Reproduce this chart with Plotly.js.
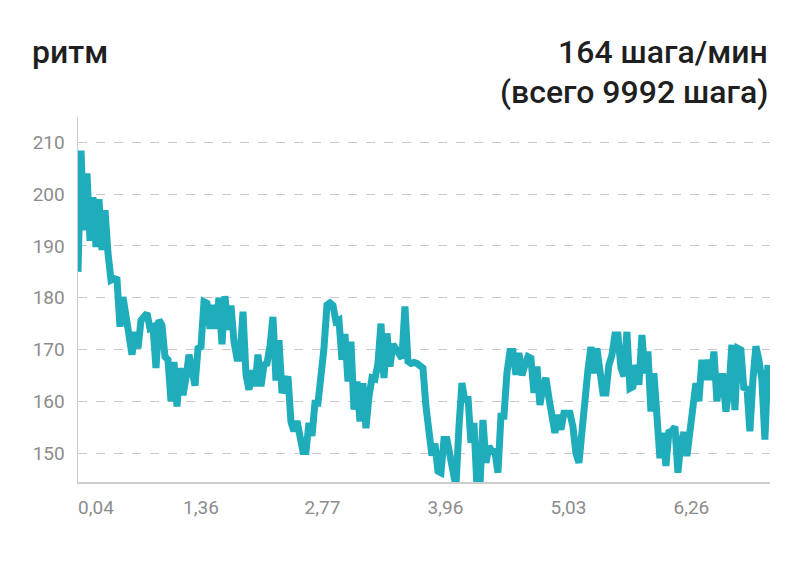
<!DOCTYPE html>
<html>
<head>
<meta charset="utf-8">
<script src="https://cdn.plot.ly/plotly-3.0.1.min.js"></script>
<style>
  html, body { margin: 0; padding: 0; background: #fff; }
  #chart { width: 800px; height: 571px; }
</style>
</head>
<body>
<div id="chart"></div>
<script>
// ── Data ─────────────────────────────────────────────────────
// cadence samples (steps/min), evenly spaced over the run
const CADENCE = [
  185, 208.4, 193, 204, 191, 199.4, 189.8, 199, 189.2, 196.9,
  188.6, 183.4, 183.7, 183.5, 174.4, 180.1, 176.5, 172.1, 169, 173.4,
  170.2, 175.6, 176.6, 177, 174.1, 174.4, 166.4, 175.7, 174.7, 168.6,
  168, 160, 167.6, 159, 166.4, 161.2, 164.5, 169, 166, 163,
  170.2, 170.5, 179.2, 178.9, 174, 178.6, 174, 180, 171, 180.3,
  173.8, 178.5, 171.5, 168.3, 168.3, 177.3, 165.1, 162.2, 166, 162.9,
  169, 162.9, 167, 167.3, 170.6, 176.3, 164, 171.8, 161.6, 163,
  164.8, 156, 154.2, 156.2, 153.9, 150.3, 150.3, 155.8, 153.3, 159.6,
  159.6, 164, 170.2, 178.6, 179, 178.5, 175.4, 175.7, 168, 173,
  163.8, 171.5, 158.4, 163.8, 156.1, 163.5, 154.8, 160.9, 164.5, 164.3,
  167.3, 175, 164.5, 173.1, 166.7, 171, 170.2, 169, 168.3, 178.3,
  167.7, 167.3, 167.5, 167.3, 166.7, 166.4, 159, 153, 149.5, 151.8,
  146.5, 146.2, 152.6, 152.6, 149.4, 147.8, 143.5, 155, 163.5, 160,
  160.9, 152, 155.8, 143.5, 143.5, 156.4, 148.1, 151.3, 150.3, 150.3,
  146.2, 157.1, 157.1, 165.5, 169.6, 169.6, 165.1, 169.3, 165, 167,
  168.6, 168.3, 161.6, 166.7, 159.3, 162.9, 164.5, 160.6, 156.4, 153.9,
  157.4, 154.5, 157.7, 157.7, 157.7, 155.1, 150, 148.1, 154.2, 162.2,
  166, 170.5, 165.4, 170.2, 164.8, 161.6, 161.6, 167, 168.9, 172.8,
  172.8, 166.5, 164.8, 173.4, 162.5, 162.8, 167, 163.2, 172.8, 165.4,
  169.6, 158, 165.4, 157.7, 149, 153.9, 147.5, 154, 154.2, 155.1,
  146.2, 152, 154, 149.4, 154.2, 160.6, 163.5, 160, 168, 164.1,
  168, 164.1, 169.6, 160, 164.8, 164.8, 158, 162.2, 170.9, 158.3,
  170.2, 169.9, 162.2, 162.8, 154.2, 164.1, 170.6, 168, 164.1, 152.6,
  167,
];

// distance labels (km) and the sample index where each one sits
const DIST_TICK_POS    = [6, 41, 81.5, 122.5, 163.5, 204.5];
const DIST_TICK_LABELS = ['0,04', '1,36', '2,77', '3,96', '5,03', '6,26'];

const Y_TICKS = [150, 160, 170, 180, 190, 200, 210];

const TITLE_LEFT   = 'ритм';
const TITLE_RIGHT1 = '164 шага/мин';
const TITLE_RIGHT2 = '(всего 9992 шага)';

// ── Colours ──────────────────────────────────────────────────
const C = {
  line:  '#1fadbc',
  text:  '#1f1f1f',
  tick:  '#8c8c8c',
  grid:  '#c9c9c9',
  axis:  '#cccccc',
};

const FONT = 'Roboto, "Noto Sans", sans-serif';

// ── Chart ────────────────────────────────────────────────────
const trace = {
  type: 'scatter',
  mode: 'lines',
  x: CADENCE.map((_, i) => i),
  y: CADENCE,
  line: { color: C.line, width: 7 },
  hoverinfo: 'skip',
};

const titleFont = { family: FONT, size: 32, color: C.text, weight: 500 };

const layout = {
  width: 800,
  height: 571,
  paper_bgcolor: '#fff',
  plot_bgcolor: '#fff',
  margin: { t: 117, r: 30, b: 89, l: 78 },
  showlegend: false,
  font: { family: FONT, color: C.tick, size: 19 },
  xaxis: {
    range: [0, 230.7],
    tickvals: DIST_TICK_POS,
    ticktext: DIST_TICK_LABELS,
    ticks: '',
    ticklabelstandoff: 8,
    showgrid: false,
    zeroline: false,
    showline: true,
    linecolor: C.axis,
    linewidth: 1.5,
    tickfont: { family: FONT, size: 19, color: C.tick },
    fixedrange: true,
  },
  yaxis: {
    range: [144.4, 214.9],
    tickvals: Y_TICKS,
    ticks: '',
    ticklabelstandoff: 8,
    showgrid: true,
    gridcolor: C.grid,
    griddash: 'dash',
    gridwidth: 1,
    zeroline: false,
    showline: true,
    linecolor: C.axis,
    linewidth: 1.5,
    tickfont: { family: FONT, size: 19, color: C.tick },
    fixedrange: true,
  },
  annotations: [
    { text: TITLE_LEFT, xref: 'paper', yref: 'paper', x: -0.069, y: 1.178,
      xanchor: 'left', yanchor: 'middle', showarrow: false, font: titleFont },
    { text: TITLE_RIGHT1, xref: 'paper', yref: 'paper', x: 1, y: 1.178,
      xanchor: 'right', yanchor: 'middle', showarrow: false, font: titleFont },
    { text: TITLE_RIGHT2, xref: 'paper', yref: 'paper', x: 1, y: 1.068,
      xanchor: 'right', yanchor: 'middle', showarrow: false, font: titleFont },
  ],
};

Plotly.newPlot('chart', [trace], layout, { displayModeBar: false, staticPlot: true });
</script>
</body>
</html>
